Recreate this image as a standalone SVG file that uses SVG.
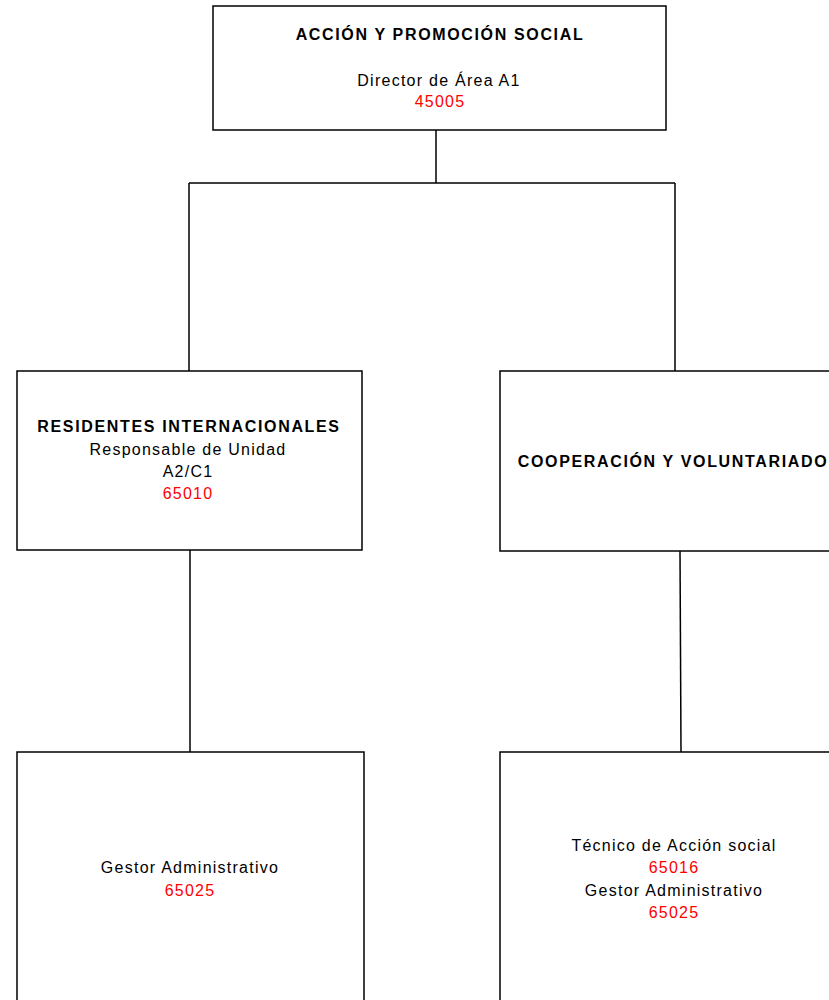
<svg xmlns="http://www.w3.org/2000/svg" width="829" height="1000" viewBox="0 0 829 1000">
<style>
.box{fill:#fff;stroke:#000;stroke-width:1.5}
.ln{stroke:#000;stroke-width:1.5;fill:none}
text{font-family:"Liberation Sans",Arial,sans-serif;text-anchor:middle;fill:#000}
.b{font-weight:bold;font-size:16px;letter-spacing:1.65px}
.r{font-size:16px;letter-spacing:1.25px}
.red{fill:#FF0000}
</style>
<rect width="829" height="1000" fill="#fff"/>
<g id="connectors">
<path class="ln" d="M436 130V183M189 183H675M189 183V371M675 183V371"/>
<path class="ln" d="M190 550V752"/>
<path class="ln" d="M680 551L681 752"/>
</g>
<g id="n-accion">
<rect class="box" x="213" y="6" width="453" height="124"/>
<text class="b" x="440" y="40">ACCIÓN Y PROMOCIÓN SOCIAL</text>
<text class="r" x="439" y="86">Director de Área A1</text>
<text class="r red" x="440" y="107">45005</text>
</g>
<g id="n-residentes">
<rect class="box" x="17" y="371" width="345" height="179"/>
<text class="b" x="189" y="432">RESIDENTES INTERNACIONALES</text>
<text class="r" x="188" y="455">Responsable de Unidad</text>
<text class="r" x="188" y="477">A2/C1</text>
<text class="r red" x="188" y="499">65010</text>
</g>
<g id="n-cooperacion">
<rect class="box" x="500" y="371" width="345" height="180"/>
<text class="b" x="673" y="467">COOPERACIÓN Y VOLUNTARIADO</text>
</g>
<g id="n-gestor-left">
<rect class="box" x="17" y="752" width="347" height="260"/>
<text class="r" x="190" y="873">Gestor Administrativo</text>
<text class="r red" x="190" y="896">65025</text>
</g>
<g id="n-tecnico-right">
<rect class="box" x="500" y="752" width="345" height="260"/>
<text class="r" x="674" y="851">Técnico de Acción social</text>
<text class="r red" x="674" y="873">65016</text>
<text class="r" x="674" y="896">Gestor Administrativo</text>
<text class="r red" x="674" y="918">65025</text>
</g>
</svg>
